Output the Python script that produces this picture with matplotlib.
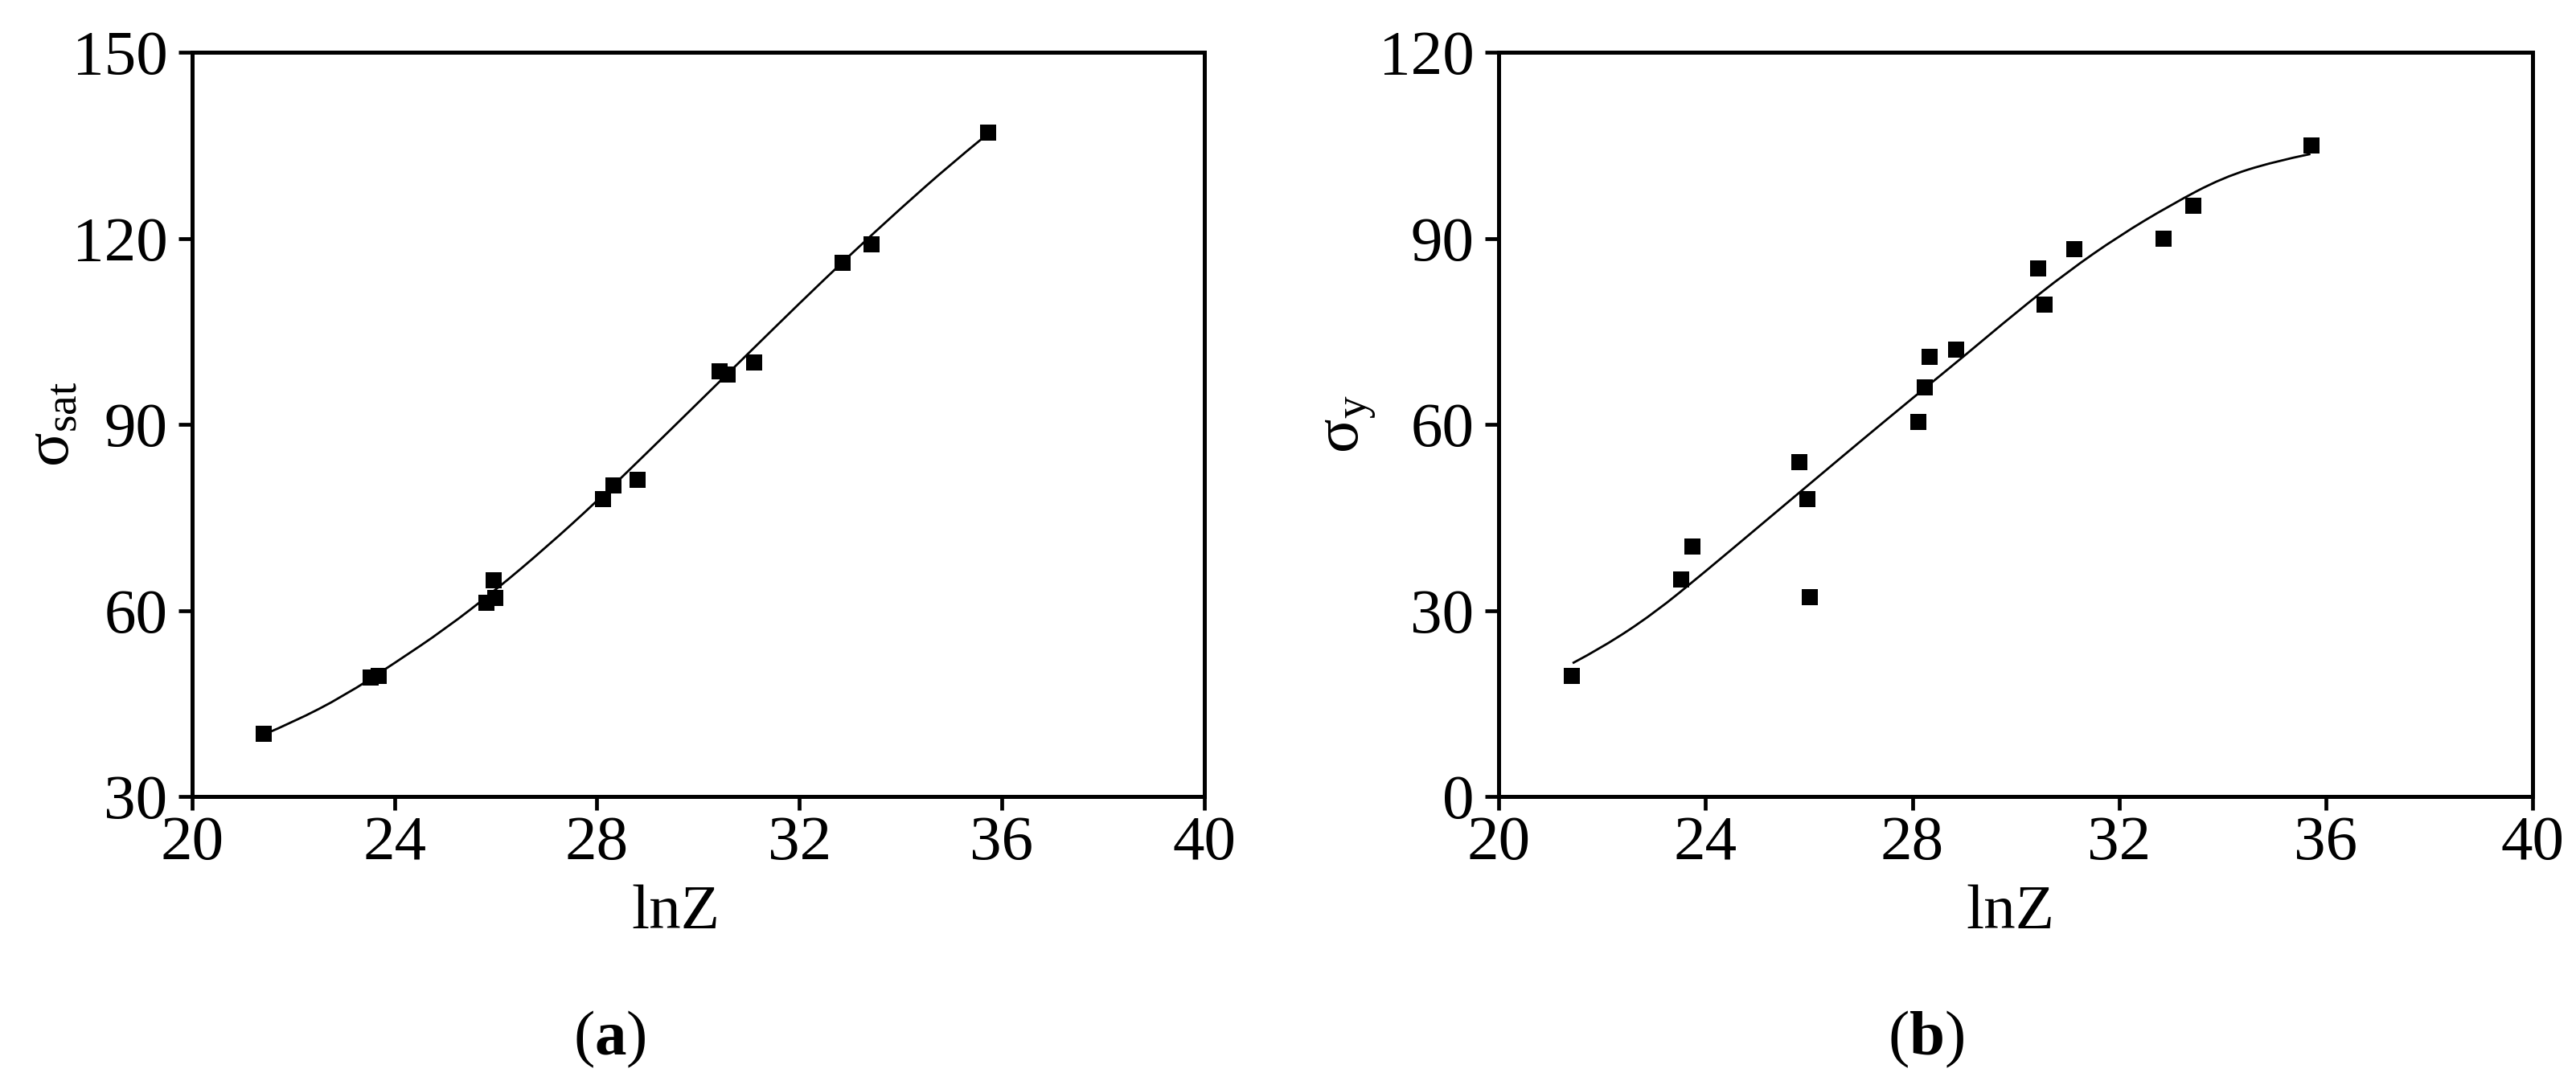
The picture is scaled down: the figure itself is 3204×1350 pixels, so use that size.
import matplotlib
matplotlib.use("Agg")
import matplotlib.pyplot as plt
from matplotlib.path import Path
from matplotlib.patches import PathPatch

# fonts: Times-like serif everywhere
plt.rcParams["font.family"] = "Liberation Serif"
plt.rcParams["mathtext.fontset"] = "custom"
plt.rcParams["mathtext.rm"] = "Liberation Serif"
plt.rcParams["mathtext.it"] = "Liberation Serif:italic"
plt.rcParams["mathtext.bf"] = "Liberation Serif:bold"

# (a) saturation stress vs lnZ
lnz_a = [21.42, 23.52, 23.69, 25.81, 25.99, 25.96, 28.12, 28.32, 28.81,
         30.43, 30.59, 31.11, 32.86, 33.43, 35.74]
sigma_sat = [40.1, 49.2, 49.5, 61.2, 62.0, 64.9, 77.9, 80.2, 81.1,
             98.5, 98.0, 100.0, 116.1, 119.0, 137.1]
fit_x_a = [21.42, 22, 23, 24, 25, 26, 27, 28, 29, 30, 31, 32, 33, 34, 35, 35.6]
fit_y_a = [40.0, 42.0, 46.2, 51.5, 57.0, 63.3, 70.2, 77.6, 85.5, 93.5,
           101.5, 109.5, 117.3, 124.8, 132.0, 136.0]

# (b) yield stress vs lnZ
lnz_b = [21.42, 23.53, 23.74, 25.82, 25.97, 26.01, 28.11, 28.24, 28.34, 28.85,
         30.44, 30.56, 31.14, 32.86, 33.43, 35.72]
sigma_y = [19.5, 35.0, 40.3, 53.9, 48.0, 32.1, 60.4, 66.0, 70.9, 72.0,
           85.1, 79.3, 88.2, 90.0, 95.2, 105.0]
fit_x_b = [21.43, 22, 23, 24, 25, 26, 27, 28, 29, 30, 31, 32, 33, 34, 35, 35.7]
fit_y_b = [21.5, 24.0, 29.5, 36.3, 43.3, 50.3, 57.3, 64.2, 71.0, 78.0,
           84.6, 90.4, 95.4, 99.8, 102.4, 103.6]

x_ticks = [20, 24, 28, 32, 36, 40]
y_ticks_a = [30, 60, 90, 120, 150]
y_ticks_b = [0, 30, 60, 90, 120]

FS = 57

fig = plt.figure(figsize=(32.04, 13.5), dpi=100)
ax1 = fig.add_axes([0.0746, 0.2659, 0.3928, 0.6859])
ax2 = fig.add_axes([0.5818, 0.2659, 0.4014, 0.6859])


def smooth_curve(ax, xs, ys):
    # quadratic bezier through the midpoints, read points act as controls
    pts = list(zip(xs, ys))
    verts = [pts[0]]
    codes = [Path.MOVETO]
    for i in range(1, len(pts) - 1):
        mid = ((pts[i][0] + pts[i + 1][0]) / 2, (pts[i][1] + pts[i + 1][1]) / 2)
        if i == len(pts) - 2:
            mid = pts[-1]
        verts += [pts[i], mid]
        codes += [Path.CURVE3, Path.CURVE3]
    ax.add_patch(PathPatch(Path(verts, codes), facecolor="none",
                           edgecolor="black", lw=2.0))


def style(ax, yticks, ylabel, ylab_x, xlab_x):
    ax.set_xlim(20, 40)
    ax.set_ylim(yticks[0], yticks[-1])
    ax.set_xticks(x_ticks)
    ax.set_yticks(yticks)
    for s in ax.spines.values():
        s.set_linewidth(3.6)
    ax.tick_params(axis="both", direction="out", length=12, width=3.4,
                   labelsize=FS, top=False, right=False)
    ax.tick_params(axis="x", pad=5)
    ax.tick_params(axis="y", pad=10)
    ax.set_xlabel("lnZ", fontsize=FS)
    ax.xaxis.set_label_coords(xlab_x, -0.118)
    ax.set_ylabel(ylabel, fontsize=FS)
    ax.yaxis.set_label_coords(ylab_x, 0.5)


smooth_curve(ax1, fit_x_a, fit_y_a)
ax1.plot(lnz_a, sigma_sat, "s", color="black", markersize=15, markeredgewidth=0)
style(ax1, y_ticks_a, "σ$_{\\mathrm{sat}}$", -0.108, 0.478)

smooth_curve(ax2, fit_x_b, fit_y_b)
ax2.plot(lnz_b, sigma_y, "s", color="black", markersize=15, markeredgewidth=0)
style(ax2, y_ticks_b, "σ$_{\\mathrm{y}}$", -0.117, 0.495)

fig.text(758 / 3204, 0.042, "($\\mathbf{a}$)", fontsize=FS, ha="center", va="center")
fig.text(2396 / 3204, 0.042, "($\\mathbf{b}$)", fontsize=FS, ha="center", va="center")

fig.savefig("out.png", dpi=100, facecolor="white")
